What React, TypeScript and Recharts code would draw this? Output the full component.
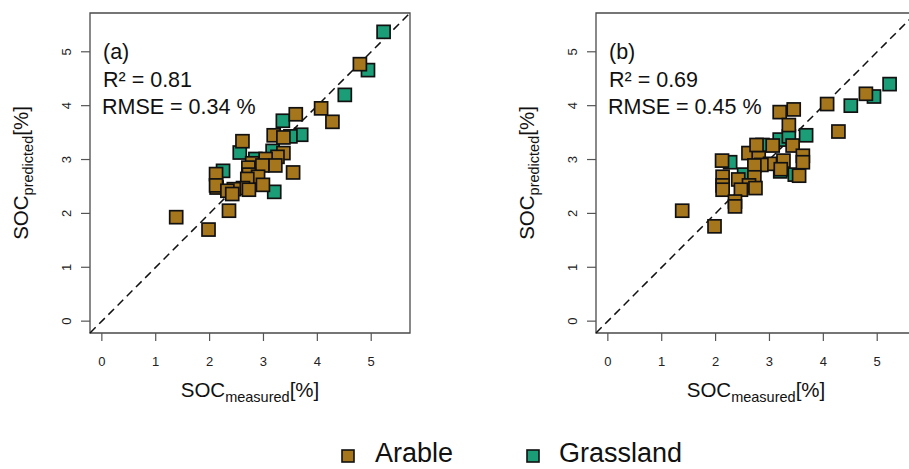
import { ScatterChart, Scatter, XAxis, YAxis, ReferenceLine, ReferenceArea } from 'recharts';

// panel (a) - model 1
const arableMeasuredA = [4.79, 4.07, 4.28, 3.6, 3.19, 3.37, 2.61, 3.37, 3.26, 3.04, 3.22, 2.79, 2.72, 2.98, 2.12, 3.55, 2.73, 2.9, 2.7, 2.99, 2.13, 2.12, 2.62, 2.73, 2.45, 2.33, 2.42, 2.36, 1.38, 1.98];
const arablePredictedA = [4.77, 3.95, 3.7, 3.84, 3.45, 3.41, 3.34, 3.12, 3.05, 3.01, 2.89, 2.93, 2.85, 2.89, 2.73, 2.76, 2.72, 2.68, 2.64, 2.53, 2.48, 2.52, 2.47, 2.44, 2.45, 2.42, 2.36, 2.05, 1.93, 1.7];
const grassMeasuredA = [5.23, 4.94, 4.51, 3.36, 3.7, 3.5, 2.56, 2.85, 3.17, 2.25, 3.2];
const grassPredictedA = [5.37, 4.66, 4.2, 3.72, 3.46, 3.43, 3.13, 3.01, 3.16, 2.79, 2.4];

// panel (b) - model 2
const arableMeasuredB = [4.79, 4.07, 4.28, 3.45, 3.19, 3.36, 3.43, 3.62, 3.62, 2.61, 2.8, 3.06, 2.76, 3.26, 3.01, 2.85, 2.72, 2.12, 2.13, 3.21, 3.55, 2.72, 2.42, 2.13, 2.13, 2.62, 2.74, 2.47, 2.36, 2.36, 1.38, 1.98];
const arablePredictedB = [4.22, 4.03, 3.52, 3.93, 3.88, 3.64, 3.26, 3.07, 2.95, 3.12, 3.03, 3.26, 3.27, 2.98, 2.92, 2.9, 2.89, 2.98, 2.68, 2.82, 2.7, 2.67, 2.63, 2.52, 2.44, 2.52, 2.47, 2.44, 2.22, 2.13, 2.05, 1.76];
const grassMeasuredB = [5.23, 4.94, 4.51, 3.68, 3.19, 3.36, 2.87, 2.27, 2.53, 3.2, 3.47];
const grassPredictedB = [4.4, 4.17, 4.0, 3.45, 3.37, 3.43, 3.27, 2.95, 2.72, 2.78, 2.72];

const axisTicks = [0, 1, 2, 3, 4, 5];
const panelLabels = ['(a)', '(b)'];
const r2Labels = ['R² = 0.81', 'R² = 0.69'];
const rmseLabels = ['RMSE = 0.34 %', 'RMSE = 0.45 %'];

const ARABLE = '#A6761D';
const GRASS = '#1B9E77';
const FONT = '"Liberation Sans", Arial, Helvetica, sans-serif';
const DOMAIN: [number, number] = [-0.22, 5.72];

const toPoints = (xs: number[], ys: number[]) => xs.map((x, i) => ({ x, y: ys[i] }));

const Square = (fill: string) => (props: any) => (
  <rect x={props.cx - 6.5} y={props.cy - 6.5} width={13} height={13} fill={fill} stroke="#111" strokeWidth={1.7} />
);

const XTick = (props: any) => (
  <text x={props.x} y={props.y + 20} textAnchor="middle" dominantBaseline="central" fontSize={13} fill="#222" fontFamily={FONT}>
    {props.payload.value}
  </text>
);

const YTick = (props: any) => (
  <text
    x={props.x - 14}
    y={props.y}
    textAnchor="middle"
    dominantBaseline="central"
    fontSize={13}
    fill="#222"
    fontFamily={FONT}
    transform={`rotate(-90 ${props.x - 14} ${props.y})`}
  >
    {props.payload.value}
  </text>
);

const XLabel = (props: any) => {
  const vb = props.viewBox;
  return (
    <text x={vb.x + vb.width / 2} y={vb.y + 64} textAnchor="middle" fontSize={20.5} fill="#111" fontFamily={FONT}>
      SOC
      <tspan fontSize={14.5} dy={5}>measured</tspan>
      <tspan dy={-5}>[%]</tspan>
    </text>
  );
};

const YLabel = (props: any) => {
  const vb = props.viewBox;
  const cx = vb.x - 2;
  const cy = vb.y + vb.height / 2;
  return (
    <text x={cx} y={cy} textAnchor="middle" fontSize={20.5} fill="#111" fontFamily={FONT} transform={`rotate(-90 ${cx} ${cy})`}>
      SOC
      <tspan fontSize={14.5} dy={5}>predicted</tspan>
      <tspan dy={-5}>[%]</tspan>
    </text>
  );
};

const Panel = ({ arable, grass, left }: { arable: any[]; grass: any[]; left: number }) => (
  <div style={{ position: 'absolute', left, top: 0 }}>
    <ScatterChart width={450} height={420} margin={{ top: 13, right: 40, bottom: 37, left: 30 }}>
      <XAxis
        dataKey="x"
        type="number"
        domain={DOMAIN}
        ticks={axisTicks}
        allowDataOverflow
        axisLine={false}
        tickSize={8}
        tickMargin={0}
        tickLine={{ stroke: '#555', strokeWidth: 1.2 }}
        tick={<XTick />}
        height={50}
        label={<XLabel />}
      />
      <YAxis
        dataKey="y"
        type="number"
        domain={DOMAIN}
        ticks={axisTicks}
        allowDataOverflow
        axisLine={false}
        tickSize={9}
        tickMargin={0}
        tickLine={{ stroke: '#555', strokeWidth: 1.2 }}
        tick={<YTick />}
        width={60}
        label={<YLabel />}
      />
      <ReferenceArea x1={DOMAIN[0]} x2={DOMAIN[1]} y1={DOMAIN[0]} y2={DOMAIN[1]} fill="none" stroke="#4a4a4a" strokeWidth={1.3} fillOpacity={0} />
      <ReferenceLine
        segment={[{ x: DOMAIN[0], y: DOMAIN[0] }, { x: DOMAIN[1], y: DOMAIN[1] }]}
        stroke="#111"
        strokeWidth={1.5}
        strokeDasharray="8 5"
      />
      <Scatter data={grass} shape={Square(GRASS)} isAnimationActive={false} />
      <Scatter data={arable} shape={Square(ARABLE)} isAnimationActive={false} />
    </ScatterChart>
  </div>
);

export default function App() {
  const panels = [
    { arable: toPoints(arableMeasuredA, arablePredictedA), grass: toPoints(grassMeasuredA, grassPredictedA), left: 0 },
    { arable: toPoints(arableMeasuredB, arablePredictedB), grass: toPoints(grassMeasuredB, grassPredictedB), left: 506 },
  ];
  return (
    <div style={{ position: 'absolute', left: 0, top: 0, width: 909, height: 469, overflow: 'hidden', background: '#fff', fontFamily: FONT }}>
      {panels.map((p, i) => (
        <Panel key={i} arable={p.arable} grass={p.grass} left={p.left} />
      ))}
      <svg width={909} height={469} style={{ position: 'absolute', left: 0, top: 0, pointerEvents: 'none' }}>
        {panels.map((p, i) => (
          <g key={i} fontFamily={FONT} fontSize={21.5} fill="#111">
            <text x={p.left + 103} y={59}>{panelLabels[i]}</text>
            <text x={p.left + 103} y={87}>{r2Labels[i]}</text>
            <text x={p.left + 102} y={114}>{rmseLabels[i]}</text>
          </g>
        ))}
        <rect x={342} y={450} width={12} height={12} fill={ARABLE} stroke="#111" strokeWidth={1.6} />
        <text x={375} y={462} fontFamily={FONT} fontSize={27} fill="#111">Arable</text>
        <rect x={527} y={450} width={12} height={12} fill={GRASS} stroke="#111" strokeWidth={1.6} />
        <text x={559} y={462} fontFamily={FONT} fontSize={27} fill="#111">Grassland</text>
      </svg>
    </div>
  );
}
